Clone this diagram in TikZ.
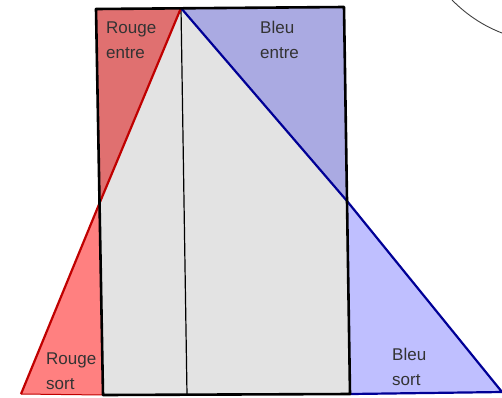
\documentclass[tikz,border=0pt]{standalone}
\usepackage{fontspec}
\setmainfont{Liberation Sans}
\usetikzlibrary{positioning}

\definecolor{redtop}{RGB}{224,112,112}
\definecolor{redlow}{RGB}{255,128,128}
\definecolor{bluetop}{RGB}{170,170,226}
\definecolor{bluelow}{RGB}{191,191,255}
\definecolor{boxgray}{RGB}{227,227,227}
\definecolor{redline}{RGB}{192,0,0}
\definecolor{blueline}{RGB}{0,0,150}
\definecolor{labelgray}{RGB}{51,51,51}

\begin{document}
\begin{tikzpicture}[
    x=1pt, y=-1pt,
    zone/.style={font=\fontsize{17}{25}\selectfont, text=labelgray, align=left, inner sep=0pt, anchor=base west},
    frame/.style={draw=black, line width=2.6pt, line join=round},
    redside/.style={draw=redline, line width=2.2pt},
    blueside/.style={draw=blueline, line width=2.2pt}
  ]
  \useasboundingbox (0,0) rectangle (502,397);

  % points du dessin
  \coordinate (tl) at (96,9);
  \coordinate (tr) at (344,7);
  \coordinate (apex) at (181,8);
  \coordinate (bl) at (103,395);
  \coordinate (br) at (350,394);
  \coordinate (afoot) at (187,395);
  \coordinate (rcut) at (100,202);
  \coordinate (bcut) at (347,201);
  \coordinate (rfoot) at (21,394);
  \coordinate (bfoot) at (502,392);

  % remplissages
  \fill[boxgray] (rcut) -- (apex) -- (bcut) -- (br) -- (bl) -- cycle;
  \fill[redtop] (tl) -- (apex) -- (rcut) -- cycle;
  \fill[redlow] (rcut) -- (rfoot) -- (bl) -- cycle;
  \fill[bluetop] (apex) -- (tr) -- (bcut) -- cycle;
  \fill[bluelow] (bcut) -- (bfoot) -- (br) -- cycle;

  % traits
  \draw[black, line width=1.2pt] (apex) -- (afoot);
  \draw[redline, line width=1pt] (rfoot) -- (bl);
  \draw[redside] (apex) -- (rcut) -- (rfoot);
  \draw[blueside] (apex) -- (bcut) -- (bfoot) -- (br);
  \draw[frame] (tl) -- (tr) -- (br) -- (bl) -- cycle;

  % arc en haut a droite
  \draw[black!75, line width=0.9pt] (452,0) .. controls (468,16) and (484,26) .. (502,33);

  % etiquettes (ancre sur la ligne du bas)
  \node[zone] (rentre) at (106,58) {Rouge\\entre};
  \node[zone] (bentre) at (260,58) {Bleu\\entre};
  \node[zone] (rsort) at (46,389) {Rouge\\sort};
  \node[zone] (bsort) at (392,385) {Bleu\\sort};
\end{tikzpicture}
\end{document}
